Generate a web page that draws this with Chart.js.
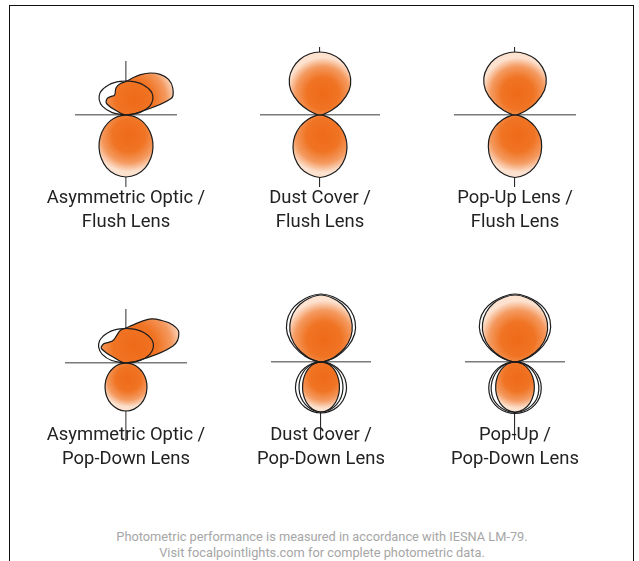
<!DOCTYPE html>
<html>
<head>
<meta charset="utf-8">
<script src="https://cdn.jsdelivr.net/npm/chart.js@4.4.0/dist/chart.umd.min.js"></script>
<style>
  html, body { margin: 0; padding: 0; background: #fff; }
  body { width: 639px; height: 561px; position: relative; overflow: hidden; font-family: Roboto, "Liberation Sans", sans-serif; }
  #frame { position: absolute; left: 9px; top: 5px; width: 623px; height: 620px; border: 1.5px solid #111; }
  canvas { position: absolute; }
  .label { position: absolute; width: 240px; margin-left: -120px; text-align: center; font-size: 18.4px; line-height: 24px; color: #222; }
  #footer { position: absolute; left: 0; width: 644px; top: 529px; text-align: center; font-size: 12.8px; line-height: 16px; color: #a6a6a6; }
</style>
</head>
<body>
<div id="frame"></div>
<div id="footer">Photometric performance is measured in accordance with IESNA LM-79.<br>Visit focalpointlights.com for complete photometric data.</div>
<script>
// angle from nadir (0 = straight down, 90 = right, 180 = up, 270 = left)
const ANGLES_DOWN = [-90, -80, -70, -60, -50, -40, -30, -20, -10, 0, 10, 20, 30, 40, 50, 60, 70, 80, 90];
const ANGLES_UP = [90, 100, 110, 120, 130, 140, 150, 160, 170, 180, 190, 200, 210, 220, 230, 240, 250, 260, 270];

// relative intensity
const ASYM_FLUSH_UP = [0, 10, 48, 54, 55.5, 53, 48.5, 43, 37.5, 33.5, 32, 29, 23, 24, 25, 22, 7, 2, 0];
const ASYM_FLUSH_UP_REF = [0, 14, 25, 31, 34, 34.7, 34.7, 34.4, 34.1, 34, 34.1, 34.4, 34.7, 34.7, 34, 31, 25, 14, 0];
const ASYM_FLUSH_DOWN = [0, 8, 16.5, 25, 33.6, 42, 49.7, 56.2, 60.5, 62, 60.5, 56.2, 49.7, 42, 33.6, 25, 16.5, 8, 0];

const DUST_FLUSH_UP = [0, 3, 10, 24, 38, 47.7, 54.3, 59.1, 62, 63, 62, 59.1, 54.3, 47.7, 38, 24, 10, 3, 0];
const DUST_FLUSH_DOWN = [0, 5, 13, 23, 33, 42, 50, 56.5, 60.5, 62.5, 60.5, 56.5, 50, 42, 33, 23, 13, 5, 0];

const POPUP_FLUSH_UP = [0, 3, 10, 24, 38.5, 48.5, 55, 59.5, 62, 63, 62, 59.5, 55, 48.5, 38.5, 24, 10, 3, 0];
const POPUP_FLUSH_DOWN = [0, 5, 13, 23, 33, 41.5, 49.5, 56, 60.5, 62.5, 60.5, 56, 49.5, 41.5, 33, 23, 13, 5, 0];

const ASYM_POPDOWN_UP = [0, 12, 50, 61, 60, 55.5, 51, 44, 38.5, 35, 33, 28.5, 26, 27, 29.5, 28, 8, 3, 0];
const ASYM_POPDOWN_UP_REF = [0, 14.5, 25.3, 31.6, 34.5, 35.3, 35.3, 35, 34.6, 34.5, 34.6, 35, 35.3, 35.3, 34.5, 31.6, 25.3, 14.5, 0];
const ASYM_POPDOWN_DOWN = [0, 6.4, 12.9, 19.5, 26.2, 32.6, 38.6, 43.6, 46.8, 48, 46.8, 43.6, 38.6, 32.6, 26.2, 19.5, 12.9, 6.4, 0];

const DUST_POPDOWN_UP = [0, 4, 14, 27, 39, 48.5, 56, 61.5, 65, 67, 65, 61.5, 56, 48.5, 39, 27, 14, 4, 0];
const DUST_POPDOWN_UP_REF = [0, 5, 17, 31, 44, 53, 59.5, 63.5, 66.5, 68, 66.5, 63.5, 59.5, 53, 44, 31, 17, 5, 0];
const DUST_POPDOWN_DOWN = [0, 4.8, 9.9, 15.4, 21.6, 28.5, 35.9, 42.9, 48, 50, 48, 42.9, 35.9, 28.5, 21.6, 15.4, 9.9, 4.8, 0];
const DUST_POPDOWN_DOWN_REF1 = [0, 6.8, 13.6, 20.5, 27.4, 34.2, 40.4, 45.4, 48.8, 50, 48.8, 45.4, 40.4, 34.2, 27.4, 20.5, 13.6, 6.8, 0];
const DUST_POPDOWN_DOWN_REF2 = [0, 8.9, 17.4, 25.5, 32.8, 39.1, 44.2, 47.9, 50.2, 51, 50.2, 47.9, 44.2, 39.1, 32.8, 25.5, 17.4, 8.9, 0];

const POPUP_POPDOWN_UP = [0, 4, 15, 29, 41, 50.5, 57.5, 62.5, 65.5, 67, 65.5, 62.5, 57.5, 50.5, 41, 29, 15, 4, 0];
const POPUP_POPDOWN_UP_REF = [0, 5, 18, 32.5, 45.5, 54.5, 60.5, 64, 66.5, 68, 66.5, 64, 60.5, 54.5, 45.5, 32.5, 18, 5, 0];
const POPUP_POPDOWN_DOWN = [0, 5.2, 10.6, 16.5, 23, 30, 37.2, 43.8, 48.3, 50, 48.3, 43.8, 37.2, 30, 23, 16.5, 10.6, 5.2, 0];
const POPUP_POPDOWN_DOWN_REF1 = [0, 7.5, 15, 22.5, 30, 37, 43, 47, 49.5, 50.5, 49.5, 47, 43, 37, 30, 22.5, 15, 7.5, 0];
const POPUP_POPDOWN_DOWN_REF2 = [0, 9.2, 18, 26.3, 33.8, 40.2, 45.3, 48.8, 50.8, 51.5, 50.8, 48.8, 45.3, 40.2, 33.8, 26.3, 18, 9.2, 0];

const TITLES = [
  ["Asymmetric Optic /", "Flush Lens"],
  ["Dust Cover /", "Flush Lens"],
  ["Pop-Up Lens /", "Flush Lens"],
  ["Asymmetric Optic /", "Pop-Down Lens"],
  ["Dust Cover /", "Pop-Down Lens"],
  ["Pop-Up /", "Pop-Down Lens"]
];

// layout of the six plots
const ORIGIN_X = [126, 320, 515, 126, 321, 515];
const ORIGIN_Y = [115, 115, 115, 363, 362, 362];
const X_HALF = [51, 60, 61, 61, 50, 50];
const Y_UP = [54, 68, 68, 54, 67, 67];
const Y_DOWN = [72, 72, 72, 78, 78, 78];
const VERT_COLOR = ["#7b7b7b", "#2a2a2a", "#2a2a2a", "#7b7b7b", "#2a2a2a", "#2a2a2a"];
const LABEL_TOP = [185, 185, 185, 422, 422, 422];
const PAD = 6;

function toXY(angles, radii) {
  return angles.map((a, i) => {
    const t = a * Math.PI / 180;
    return { x: radii[i] * Math.sin(t), y: -radii[i] * Math.cos(t) };
  });
}

// radial orange fill, brightest a bit towards the plot origin
function lobeGradient(ctx) {
  const chart = ctx.chart;
  const xs = chart.scales.x, ys = chart.scales.y;
  if (!chart.chartArea || !xs || !ys) return "#f2762e";
  const pts = ctx.dataset.data.map(p => [xs.getPixelForValue(p.x), ys.getPixelForValue(p.y)]);
  let cx = 0, cy = 0;
  pts.forEach(p => { cx += p[0]; cy += p[1]; });
  cx /= pts.length; cy /= pts.length;
  let R = 1;
  pts.forEach(p => { R = Math.max(R, Math.hypot(p[0] - cx, p[1] - cy)); });
  const ox = xs.getPixelForValue(0), oy = ys.getPixelForValue(0);
  const gx = cx + (ox - cx) * 0.25 + R * 0.08, gy = cy + (oy - cy) * 0.25;
  const g = chart.ctx.createRadialGradient(gx, gy, 0, gx, gy, R * 1.05);
  g.addColorStop(0, "#ee6a18");
  g.addColorStop(0.45, "#f07424");
  g.addColorStop(0.75, "#f49a60");
  g.addColorStop(1, "#fde2d0");
  return g;
}

function lobe(angles, radii, filled) {
  return {
    data: toXY(angles, radii),
    showLine: true,
    borderColor: "#1c1c1c",
    borderWidth: 1.2,
    pointRadius: 0,
    tension: 0.4,
    clip: false,
    fill: filled ? "shape" : false,
    backgroundColor: filled ? lobeGradient : "rgba(0,0,0,0)",
    order: filled ? 2 : 1
  };
}

const PLOTS = [
  [lobe(ANGLES_DOWN, ASYM_FLUSH_DOWN, true), lobe(ANGLES_UP, ASYM_FLUSH_UP, true), lobe(ANGLES_UP, ASYM_FLUSH_UP_REF, false)],
  [lobe(ANGLES_DOWN, DUST_FLUSH_DOWN, true), lobe(ANGLES_UP, DUST_FLUSH_UP, true)],
  [lobe(ANGLES_DOWN, POPUP_FLUSH_DOWN, true), lobe(ANGLES_UP, POPUP_FLUSH_UP, true)],
  [lobe(ANGLES_DOWN, ASYM_POPDOWN_DOWN, true), lobe(ANGLES_UP, ASYM_POPDOWN_UP, true), lobe(ANGLES_UP, ASYM_POPDOWN_UP_REF, false)],
  [lobe(ANGLES_DOWN, DUST_POPDOWN_DOWN, true), lobe(ANGLES_DOWN, DUST_POPDOWN_DOWN_REF1, false), lobe(ANGLES_DOWN, DUST_POPDOWN_DOWN_REF2, false),
   lobe(ANGLES_UP, DUST_POPDOWN_UP, true), lobe(ANGLES_UP, DUST_POPDOWN_UP_REF, false)],
  [lobe(ANGLES_DOWN, POPUP_POPDOWN_DOWN, true), lobe(ANGLES_DOWN, POPUP_POPDOWN_DOWN_REF1, false), lobe(ANGLES_DOWN, POPUP_POPDOWN_DOWN_REF2, false),
   lobe(ANGLES_UP, POPUP_POPDOWN_UP, true), lobe(ANGLES_UP, POPUP_POPDOWN_UP_REF, false)]
];

function axis(min, max, color, width) {
  return {
    type: "linear",
    min: min,
    max: max,
    z: 1,
    afterBuildTicks: s => { s.ticks = [{ value: 0 }]; },
    ticks: { display: false },
    border: { display: false },
    grid: { color: color, lineWidth: width, drawTicks: false }
  };
}

PLOTS.forEach((datasets, i) => {
  const w = X_HALF[i] * 2, h = Y_UP[i] + Y_DOWN[i];
  const cv = document.createElement("canvas");
  cv.width = w + PAD * 2;
  cv.height = h + PAD * 2;
  cv.style.left = (ORIGIN_X[i] - X_HALF[i] - PAD) + "px";
  cv.style.top = (ORIGIN_Y[i] - Y_UP[i] - PAD) + "px";
  document.body.appendChild(cv);

  new Chart(cv.getContext("2d"), {
    type: "scatter",
    data: { datasets: datasets },
    options: {
      responsive: false,
      animation: false,
      layout: { padding: PAD },
      scales: {
        x: axis(-X_HALF[i], X_HALF[i], VERT_COLOR[i], VERT_COLOR[i] === "#7b7b7b" ? 1.6 : 1.1),
        y: axis(-Y_DOWN[i], Y_UP[i], "#7b7b7b", 1.6)
      },
      plugins: { legend: { display: false }, tooltip: { enabled: false } }
    }
  });

  const lbl = document.createElement("div");
  lbl.className = "label";
  lbl.style.left = ORIGIN_X[i] + "px";
  lbl.style.top = LABEL_TOP[i] + "px";
  lbl.innerHTML = TITLES[i][0] + "<br>" + TITLES[i][1];
  document.body.appendChild(lbl);
});
</script>
</body>
</html>
